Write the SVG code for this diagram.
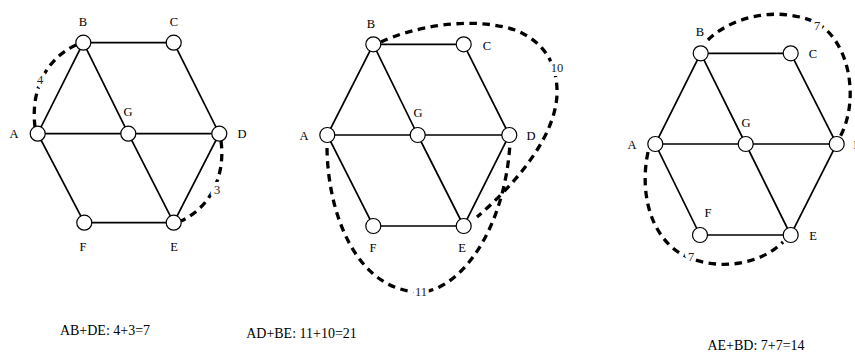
<svg xmlns="http://www.w3.org/2000/svg" width="855" height="354" viewBox="0 0 855 354">
<style>
.e{stroke:#000;stroke-width:1.7;fill:none}
.d{stroke:#000;stroke-width:3.3;fill:none;stroke-dasharray:7.5 5.5}
.n circle{fill:#fff;stroke:#000;stroke-width:1.2}
text{font-family:"Liberation Serif","Times New Roman",serif;font-size:12.5px;fill:#000;text-anchor:middle}
.w{font-size:12.5px;fill:#222;paint-order:stroke;stroke:#fff;stroke-width:8px;stroke-linejoin:round}
.cap{font-size:14px}
</style>
<rect width="855" height="354" fill="#fff"/>
<g id="connectors">
 <path class="e" d="M83.3,42.7H173.7L219.3,133.7L173.7,222.7H84.3L37.7,133.7Z"/>
 <path class="e" d="M37.7,133.7H128.3M128.3,133.7H219.3M83.3,42.7L128.3,133.7M128.3,133.7L173.7,222.7"/>
 <path class="d" d="M35,127 C31,95 42,60 78,44"/>
 <path class="d" d="M221,141 C225,170 215,205 181,221"/>
 <path class="e" d="M373.3,44.3H463.7L509.3,135L463.7,226H373.3L327.3,135Z"/>
 <path class="e" d="M327.3,135H417.7M417.7,135H509.3M373.3,44.3L417.7,135M417.7,135L463.7,226"/>
 <path class="d" d="M381,42 C410,28 470,15 515,30 C545,42 558,65 557,95 C555,135 520,180 477,217"/>
 <path class="d" d="M327,148 C328,220 360,292 421,292 C460,290 505,230 510,143"/>
 <path class="e" d="M700.7,53.3H790.7L836.7,144L790.7,235H700L655.3,144Z"/>
 <path class="e" d="M655.3,144H745.7M745.7,144H836.7M700.7,53.3L745.7,144M745.7,144L790.7,235"/>
 <path class="d" d="M708,40 C730,18 775,5 815,22 C850,40 860,100 840,137"/>
 <path class="d" d="M648,152 C638,200 655,245 690,258 C720,270 760,265 783,242"/>
 <text class="w" x="40" y="84">4</text>
 <text class="w" x="217" y="194">3</text>
 <text class="w" x="557" y="72">10</text>
 <text class="w" x="421" y="296">11</text>
 <text class="w" x="817" y="30">7</text>
 <text class="w" x="691" y="261">7</text>
</g>
<g id="g1-A" class="n"><circle cx="37.7" cy="133.7" r="7.5"/><text x="14" y="138">A</text></g>
<g id="g1-B" class="n"><circle cx="83.3" cy="42.7" r="7.5"/><text x="83" y="26">B</text></g>
<g id="g1-C" class="n"><circle cx="173.7" cy="42.7" r="7.5"/><text x="174" y="26">C</text></g>
<g id="g1-D" class="n"><circle cx="219.3" cy="133.7" r="7.5"/><text x="242" y="138">D</text></g>
<g id="g1-E" class="n"><circle cx="173.7" cy="222.7" r="7.5"/><text x="174" y="251">E</text></g>
<g id="g1-F" class="n"><circle cx="84.3" cy="222.7" r="7.5"/><text x="83" y="251">F</text></g>
<g id="g1-G" class="n"><circle cx="128.3" cy="133.7" r="7.5"/><text x="128" y="116">G</text></g>
<g id="g2-A" class="n"><circle cx="327.3" cy="135" r="7.5"/><text x="304" y="140">A</text></g>
<g id="g2-B" class="n"><circle cx="373.3" cy="44.3" r="7.5"/><text x="371" y="28">B</text></g>
<g id="g2-C" class="n"><circle cx="463.7" cy="44.3" r="7.5"/><text x="487" y="50">C</text></g>
<g id="g2-D" class="n"><circle cx="509.3" cy="135" r="7.5"/><text x="531" y="140">D</text></g>
<g id="g2-E" class="n"><circle cx="463.7" cy="226" r="7.5"/><text x="462" y="252">E</text></g>
<g id="g2-F" class="n"><circle cx="373.3" cy="226" r="7.5"/><text x="373" y="252">F</text></g>
<g id="g2-G" class="n"><circle cx="417.7" cy="135" r="7.5"/><text x="418" y="117">G</text></g>
<g id="g3-A" class="n"><circle cx="655.3" cy="144" r="7.5"/><text x="632" y="149">A</text></g>
<g id="g3-B" class="n"><circle cx="700.7" cy="53.3" r="7.5"/><text x="700" y="36">B</text></g>
<g id="g3-C" class="n"><circle cx="790.7" cy="53.3" r="7.5"/><text x="813" y="58">C</text></g>
<g id="g3-D" class="n"><circle cx="836.7" cy="144" r="7.5"/><text x="858" y="149">D</text></g>
<g id="g3-E" class="n"><circle cx="790.7" cy="235" r="7.5"/><text x="813" y="240">E</text></g>
<g id="g3-F" class="n"><circle cx="700" cy="235" r="7.5"/><text x="708" y="217">F</text></g>
<g id="g3-G" class="n"><circle cx="745.7" cy="144" r="7.5"/><text x="746" y="127">G</text></g>
<text class="cap" x="105" y="335">AB+DE: 4+3=7</text>
<text class="cap" x="301.5" y="338">AD+BE: 11+10=21</text>
<text class="cap" x="756" y="350">AE+BD: 7+7=14</text>
</svg>
